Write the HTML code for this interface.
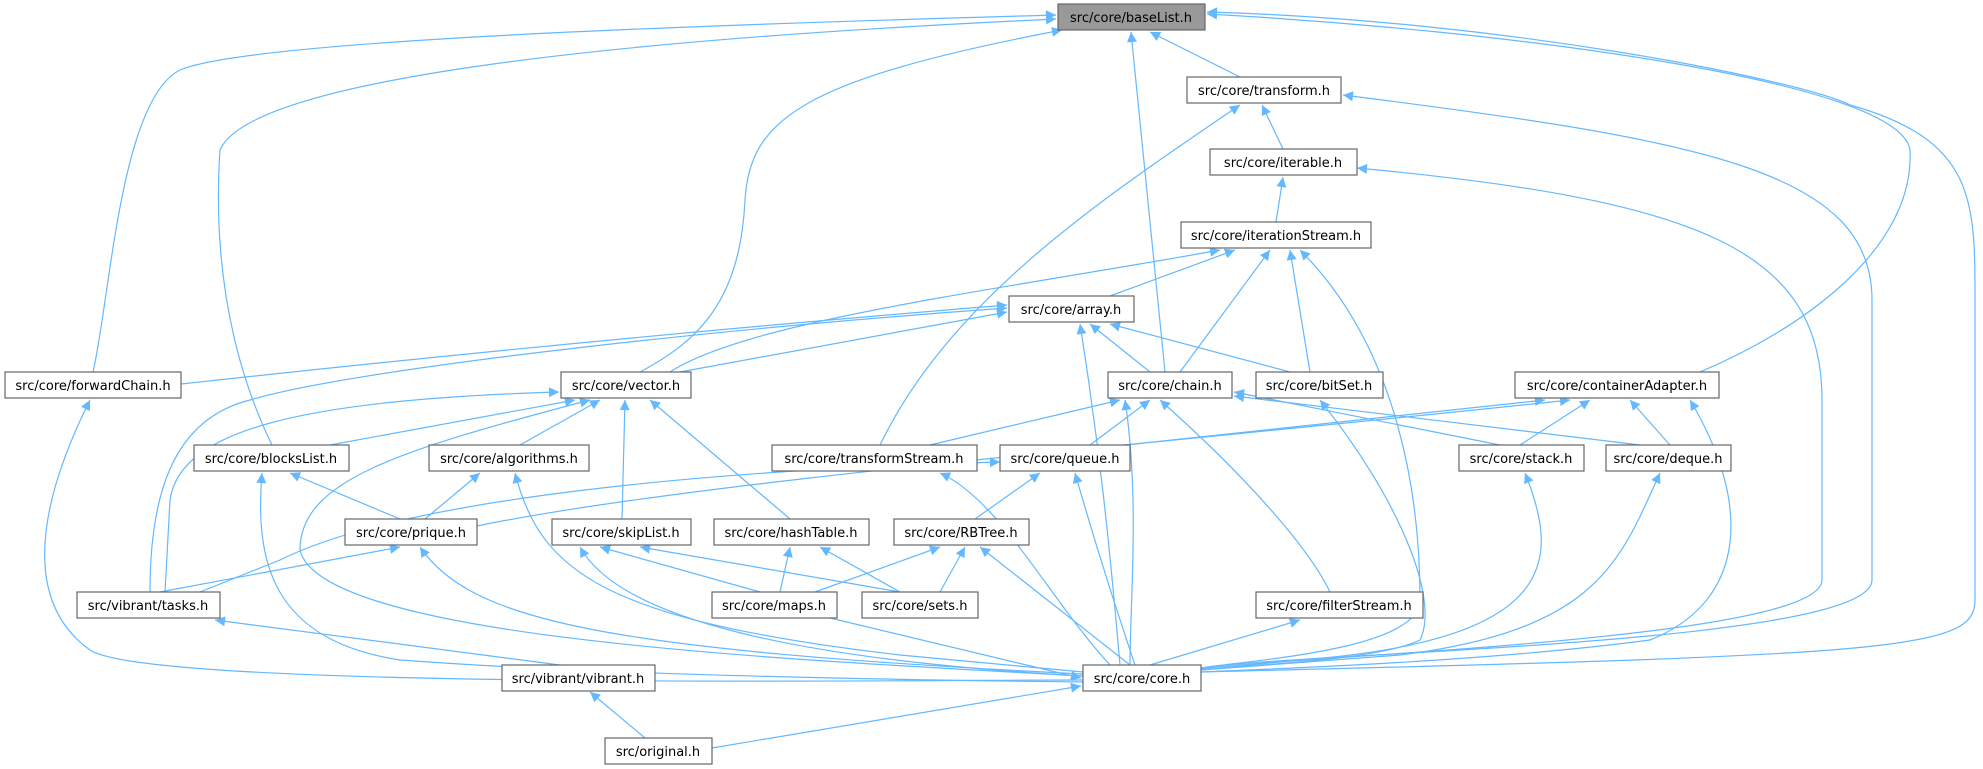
<!DOCTYPE html>
<html><head><meta charset="utf-8"><style>
body{margin:0;background:#fff;width:1983px;height:769px;overflow:hidden}
svg{position:absolute;left:0;top:0}
text{font-family:"DejaVu Sans","Liberation Sans",sans-serif;font-size:13px;fill:#000}
</style></head><body>
<svg width="1983" height="769" viewBox="0 0 1983 769">
<defs><marker id="a" viewBox="0 0 10 10" refX="10" refY="5" markerWidth="12" markerHeight="10" markerUnits="userSpaceOnUse" orient="auto-start-reverse"><path d="M0,0 L10,5 L0,10 z" fill="#63b8ff"/></marker></defs>
<g fill="none" stroke="#63b8ff" stroke-width="1.2" marker-start="url(#a)">
<path d="M1056,15 C700,25 250,40 180,70 C120,100 110,300 93,372"/>
<path d="M1056,19 C600,40 250,80 220,150 C210,300 250,400 272,445"/>
<path d="M1062,30 C800,80 750,120 745,200 C740,300 700,340 640,372"/>
<path d="M1131,32 L1165,372"/>
<path d="M1150,32 L1240,77"/>
<path d="M1207,14 C1500,30 1900,80 1910,150 C1915,250 1800,330 1700,372"/>
<path d="M1207,12 C1500,20 1800,80 1850,105 C1975,140 1975,200 1975,300 L1975,600 C1975,650 1900,655 1201,672"/>
<path d="M1262,105 L1283,149"/>
<path d="M1240,105 C1100,200 950,300 880,445"/>
<path d="M1343,95 C1700,140 1872,170 1872,300 L1872,580 C1872,645 1300,652 1201,668"/>
<path d="M1357,168 C1700,200 1822,250 1822,400 L1822,580 C1822,640 1300,655 1201,669"/>
<path d="M1283,177 L1276,222"/>
<path d="M1235,250 L1110,296"/>
<path d="M1220,250 C1000,290 750,320 670,372"/>
<path d="M1270,250 L1180,372"/>
<path d="M1290,250 L1310,372"/>
<path d="M1300,250 C1400,350 1420,500 1420,600 C1420,650 1250,660 1201,668"/>
<path d="M1007,305 C700,330 400,360 181,384"/>
<path d="M1007,312 L680,372"/>
<path d="M1090,324 L1150,372"/>
<path d="M1110,324 L1290,372"/>
<path d="M1007,308 C700,330 350,370 250,400 C170,420 150,500 150,592"/>
<path d="M1080,324 C1100,450 1110,550 1120,665"/>
<path d="M90,400 C40,500 20,600 90,650 C150,690 900,680 1083,680"/>
<path d="M575,400 L330,445"/>
<path d="M600,400 L520,445"/>
<path d="M625,400 L622,519"/>
<path d="M650,400 L790,519"/>
<path d="M559,392 C300,400 180,430 170,500 L165,592"/>
<path d="M590,400 C400,450 300,480 300,550 C320,640 800,660 1083,676"/>
<path d="M1120,400 L930,445"/>
<path d="M1150,400 L1090,445"/>
<path d="M1234,392 L1500,445"/>
<path d="M1234,396 L1640,445"/>
<path d="M1160,400 C1250,480 1310,550 1330,592"/>
<path d="M1125,400 C1140,500 1130,600 1130,665"/>
<path d="M1320,400 C1400,500 1440,600 1420,640 C1380,660 1250,665 1201,670"/>
<path d="M1545,400 L1125,445"/>
<path d="M1590,400 L1520,445"/>
<path d="M1630,400 L1670,445"/>
<path d="M1570,400 C1200,440 700,480 477,526"/>
<path d="M1690,400 C1750,500 1750,600 1650,640 C1500,660 1300,668 1201,672"/>
<path d="M290,473 L400,519"/>
<path d="M262,473 C255,560 270,640 400,660 C600,675 900,680 1083,682"/>
<path d="M480,473 L425,519"/>
<path d="M515,473 C540,570 600,620 900,655 L1083,672"/>
<path d="M940,473 C1000,500 1050,600 1110,665"/>
<path d="M1040,473 L975,519"/>
<path d="M1075,473 C1100,560 1120,620 1135,665"/>
<path d="M1000,462 C700,470 400,500 280,560 L200,592"/>
<path d="M1525,473 C1560,560 1560,640 1300,660 L1201,670"/>
<path d="M1660,473 C1620,560 1600,630 1400,655 L1201,670"/>
<path d="M400,547 L160,592"/>
<path d="M420,547 C470,620 600,650 1083,674"/>
<path d="M600,547 L760,592"/>
<path d="M640,547 L900,592"/>
<path d="M580,547 C620,620 800,660 1083,676"/>
<path d="M790,547 L780,592"/>
<path d="M820,547 L900,592"/>
<path d="M940,547 L815,592"/>
<path d="M965,547 L940,592"/>
<path d="M980,547 L1130,665"/>
<path d="M215,620 L560,665"/>
<path d="M1081,678 L830,618"/>
<path d="M1300,620 L1150,665"/>
<path d="M590,692 L645,738"/>
<path d="M1081,686 L712,748"/>
</g>
<g stroke="#666" stroke-width="1.2" fill="#fff">
<rect x="1058" y="4" width="147" height="26" fill="#999"/>
<rect x="1187" y="77" width="154" height="26"/>
<rect x="1210" y="149" width="147" height="26"/>
<rect x="1181" y="222" width="190" height="26"/>
<rect x="1009" y="296" width="125" height="26"/>
<rect x="5" y="372" width="176" height="26"/>
<rect x="561" y="372" width="130" height="26"/>
<rect x="1108" y="372" width="124" height="26"/>
<rect x="1256" y="372" width="127" height="26"/>
<rect x="1515" y="372" width="204" height="26"/>
<rect x="194" y="445" width="155" height="26"/>
<rect x="429" y="445" width="160" height="26"/>
<rect x="772" y="445" width="205" height="26"/>
<rect x="1000" y="445" width="130" height="26"/>
<rect x="1459" y="445" width="125" height="26"/>
<rect x="1606" y="445" width="125" height="26"/>
<rect x="345" y="519" width="132" height="26"/>
<rect x="552" y="519" width="139" height="26"/>
<rect x="714" y="519" width="155" height="26"/>
<rect x="894" y="519" width="135" height="26"/>
<rect x="77" y="592" width="143" height="26"/>
<rect x="712" y="592" width="125" height="26"/>
<rect x="862" y="592" width="116" height="26"/>
<rect x="1256" y="592" width="167" height="26"/>
<rect x="502" y="665" width="153" height="26"/>
<rect x="1083" y="665" width="118" height="26"/>
<rect x="605" y="738" width="107" height="26"/>
</g>
<g text-anchor="middle">
<text x="1131" y="22">src/core/baseList.h</text>
<text x="1264" y="95">src/core/transform.h</text>
<text x="1283" y="167">src/core/iterable.h</text>
<text x="1276" y="240">src/core/iterationStream.h</text>
<text x="1071" y="314">src/core/array.h</text>
<text x="93" y="390">src/core/forwardChain.h</text>
<text x="626" y="390">src/core/vector.h</text>
<text x="1170" y="390">src/core/chain.h</text>
<text x="1319" y="390">src/core/bitSet.h</text>
<text x="1617" y="390">src/core/containerAdapter.h</text>
<text x="271" y="463">src/core/blocksList.h</text>
<text x="509" y="463">src/core/algorithms.h</text>
<text x="874" y="463">src/core/transformStream.h</text>
<text x="1065" y="463">src/core/queue.h</text>
<text x="1521" y="463">src/core/stack.h</text>
<text x="1668" y="463">src/core/deque.h</text>
<text x="411" y="537">src/core/prique.h</text>
<text x="621" y="537">src/core/skipList.h</text>
<text x="791" y="537">src/core/hashTable.h</text>
<text x="961" y="537">src/core/RBTree.h</text>
<text x="148" y="610">src/vibrant/tasks.h</text>
<text x="774" y="610">src/core/maps.h</text>
<text x="920" y="610">src/core/sets.h</text>
<text x="1339" y="610">src/core/filterStream.h</text>
<text x="578" y="683">src/vibrant/vibrant.h</text>
<text x="1142" y="683">src/core/core.h</text>
<text x="658" y="756">src/original.h</text>
</g>
</svg>
</body></html>
